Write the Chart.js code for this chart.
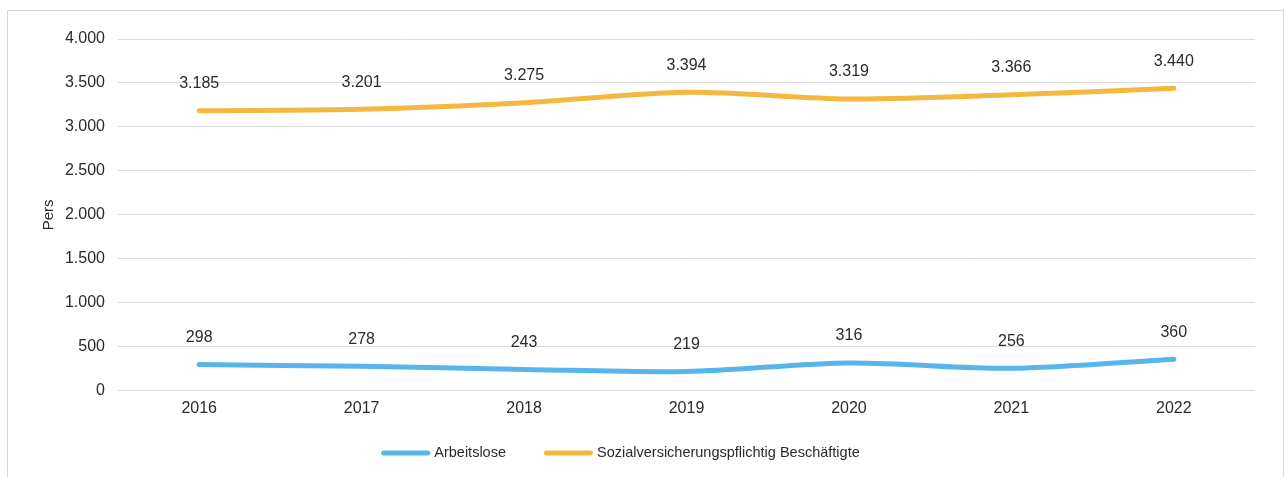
<!DOCTYPE html>
<html lang="de">
<head>
<meta charset="utf-8">
<title>Arbeitslose und Beschäftigte 2016–2022</title>
<script src="https://cdn.jsdelivr.net/npm/chart.js@4.4.1/dist/chart.umd.min.js"></script>
<style>
  html, body { margin: 0; padding: 0; background: #fff; }
  body { width: 1285px; height: 477px; overflow: hidden; position: relative; }
  .frame { position: absolute; left: 7px; top: 10px; width: 1277px; height: 480px; border: 1px solid #d6d6d6; box-sizing: border-box; }
  #wrap { position: absolute; left: 0; top: 0; width: 1285px; height: 477px; }
</style>
</head>
<body>
<div class="frame"></div>
<div id="wrap"><canvas id="chart"></canvas></div>
<script>
// Jahre auf der x-Achse
const years = ['2016', '2017', '2018', '2019', '2020', '2021', '2022'];
// Personen je Jahr
const arbeitslose = [298, 278, 243, 219, 316, 256, 360];
const beschaeftigte = [3185, 3201, 3275, 3394, 3319, 3366, 3440];
const seriesNames = ['Arbeitslose', 'Sozialversicherungspflichtig Beschäftigte'];
const axisTitle = 'Pers';

const fmt = new Intl.NumberFormat('de-DE');
const FONT = '"Liberation Sans", Arial, sans-serif';
const TEXT = '#2b2b2b';

// Werte über den Punkten beschriften
const valueLabels = {
  id: 'valueLabels',
  afterDatasetsDraw(chart) {
    const ctx = chart.ctx;
    ctx.save();
    ctx.font = '16px ' + FONT;
    ctx.fillStyle = TEXT;
    ctx.textAlign = 'center';
    ctx.textBaseline = 'middle';
    chart.data.datasets.forEach((ds, i) => {
      chart.getDatasetMeta(i).data.forEach((pt, j) => {
        ctx.fillText(fmt.format(ds.data[j]), pt.x, pt.y - 27);
      });
    });
    ctx.restore();
  }
};

// Legende unten: Linienstück + Serienname
const lineLegend = {
  id: 'lineLegend',
  afterDraw(chart) {
    const ctx = chart.ctx;
    const lineLen = 49, textGap = 4, itemGap = 38, y = 453;
    ctx.save();
    ctx.font = '14.5px ' + FONT;
    ctx.textBaseline = 'middle';
    ctx.textAlign = 'left';
    const items = chart.data.datasets.map(ds => ({
      ds, w: lineLen + textGap + ctx.measureText(ds.label).width
    }));
    const total = items.reduce((s, it) => s + it.w, 0) + itemGap * (items.length - 1);
    let x = 620.5 - total / 2;
    items.forEach(it => {
      ctx.strokeStyle = it.ds.borderColor;
      ctx.lineWidth = 5;
      ctx.lineCap = 'round';
      ctx.beginPath();
      ctx.moveTo(x + 2.5, y);
      ctx.lineTo(x + lineLen - 2.5, y);
      ctx.stroke();
      ctx.fillStyle = TEXT;
      ctx.fillText(it.ds.label, x + lineLen + textGap, y);
      x += it.w + itemGap;
    });
    ctx.restore();
  }
};

new Chart(document.getElementById('chart'), {
  type: 'line',
  data: {
    labels: years,
    datasets: [
      {
        label: seriesNames[0],
        data: arbeitslose,
        borderColor: '#56b6ec',
        backgroundColor: '#56b6ec',
        borderWidth: 5,
        tension: 0.3,
        pointRadius: 0,
        borderCapStyle: 'round'
      },
      {
        label: seriesNames[1],
        data: beschaeftigte,
        borderColor: '#f4b840',
        backgroundColor: '#f4b840',
        borderWidth: 5,
        tension: 0.3,
        pointRadius: 0,
        borderCapStyle: 'round'
      }
    ]
  },
  options: {
    responsive: true,
    maintainAspectRatio: false,
    animation: false,
    layout: { padding: { left: 38, right: 30, top: 39, bottom: 51 } },
    plugins: {
      legend: { display: false },
      tooltip: { enabled: false }
    },
    scales: {
      x: {
        offset: true,
        grid: { display: false, drawTicks: false },
        border: { display: false },
        ticks: { color: TEXT, font: { family: FONT, size: 16 }, padding: 8 }
      },
      y: {
        min: 0,
        max: 4000,
        afterFit(scale) { scale.width = 80; },
        grid: { color: '#dcdcdc', drawTicks: false },
        border: { display: false },
        title: {
          display: true,
          text: axisTitle,
          color: TEXT,
          font: { family: FONT, size: 15 },
          padding: { top: 2, bottom: 0 }
        },
        ticks: {
          stepSize: 500,
          padding: 13,
          color: TEXT,
          font: { family: FONT, size: 16 },
          callback: v => fmt.format(v)
        }
      }
    }
  },
  plugins: [valueLabels, lineLegend]
});
</script>
</body>
</html>
